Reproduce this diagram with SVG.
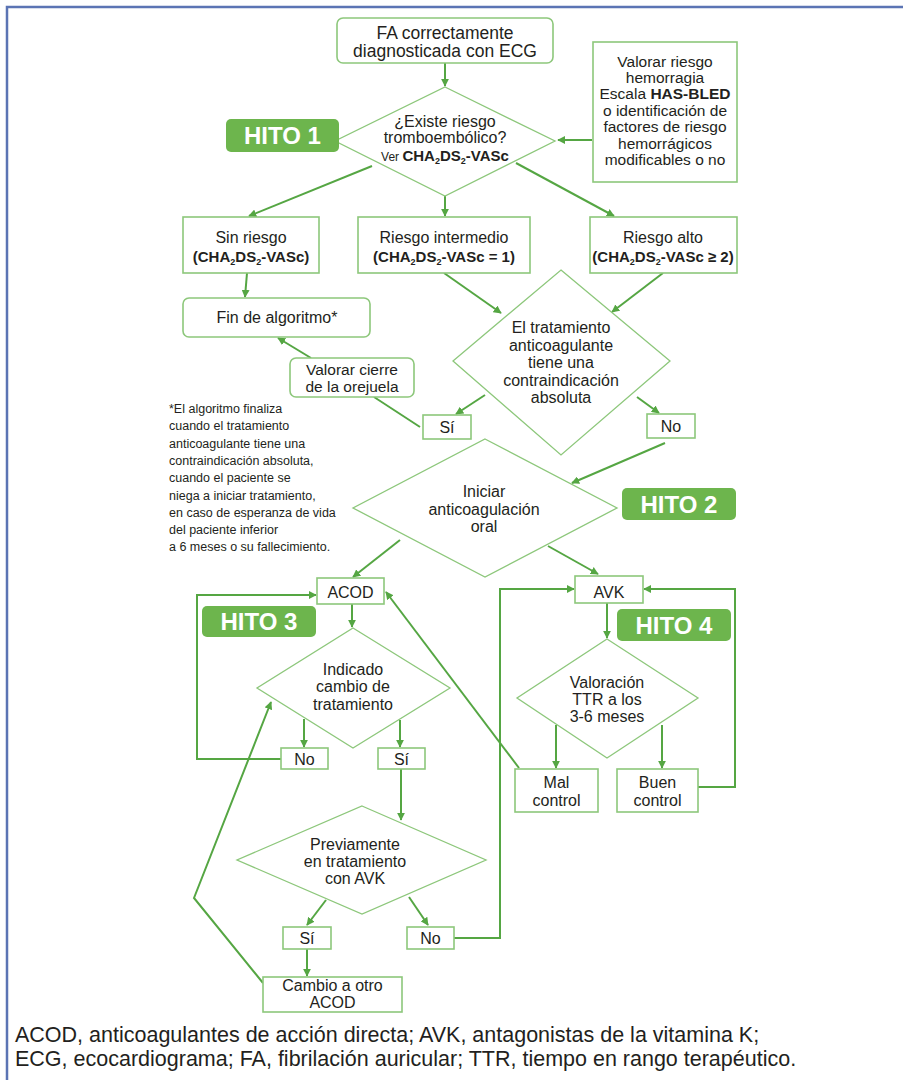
<svg xmlns="http://www.w3.org/2000/svg" width="903" height="1080" viewBox="0 0 903 1080">
<defs>
<style>
text{font-family:'Liberation Sans',Arial,sans-serif;fill:#231f20;text-anchor:middle}
.t{font-size:16px}
.b{font-weight:bold}
.box{fill:#fff;stroke:#8dc77b;stroke-width:1.6}
.dia{fill:#fff;stroke:#8dc77b;stroke-width:1.3}
.hito{fill:#6db54d}
.ht{font-size:24px;font-weight:bold;fill:#fff}
.c{fill:none;stroke:#55a643;stroke-width:2}
.a{marker-end:url(#ah)}
.fn{font-size:12.5px;text-anchor:start}
.ft{font-size:21.5px;text-anchor:start}
</style>
<marker id="ah" viewBox="0 0 10 10" refX="9" refY="5" markerWidth="8" markerHeight="8" orient="auto" markerUnits="userSpaceOnUse">
<path d="M0,0 L10,5 L0,10 z" fill="#55a643"/>
</marker>
</defs>
<rect width="903" height="1080" fill="#fff"/>
<path d="M7,1080 V7 H903" fill="none" stroke="#5b74b4" stroke-width="2.5"/>

<g id="connectors">
<path class="c a" d="M445,63 V86"/>
<path class="c a" d="M592,140 H558"/>
<path class="c a" d="M372,166 L249,216"/>
<path class="c a" d="M445,196 V216"/>
<path class="c a" d="M516,163 L614,216"/>
<path class="c a" d="M247,273 L245,297"/>
<path class="c a" d="M444,273 L501,313"/>
<path class="c a" d="M663,273 L612,312"/>
<path class="c a" d="M485,395 L456,414"/>
<path class="c a" d="M637,397 L659,413"/>
<path class="c" d="M420,427 L374,397"/>
<path class="c a" d="M311,358 L278,338"/>
<path class="c a" d="M665,443 L572,483"/>
<path class="c a" d="M400,540 L353,577"/>
<path class="c a" d="M548,546 L598,574"/>
<path class="c a" d="M352,604 V627"/>
<path class="c a" d="M304,719 V747"/>
<path class="c a" d="M400,720 V747"/>
<path class="c a" d="M281,759 H197 V595 H316"/>
<path class="c a" d="M519,768 L386,592"/>
<path class="c a" d="M607,603 V638"/>
<path class="c a" d="M556,725 V768"/>
<path class="c a" d="M662,725 V768"/>
<path class="c a" d="M698,787 H735 V589 H644"/>
<path class="c a" d="M454,938 H500 V589 H574"/>
<path class="c a" d="M401,769 V820"/>
<path class="c a" d="M326,900 L307,925"/>
<path class="c a" d="M409,897 L428,925"/>
<path class="c a" d="M307,949 V976"/>
<path class="c a" d="M263,983 L194,898 L271,702"/>
</g>

<g id="n-fa">
<rect class="box" x="337" y="18" width="216" height="45" rx="6"/>
<text style="font-size:17.5px" x="445" y="39">FA correctamente</text>
<text style="font-size:17.5px" x="445" y="57">diagnosticada con ECG</text>
</g>

<g id="n-d1">
<polygon class="dia" points="445,87 555,141 445,196 335,141"/>
<text class="t" x="445" y="127">¿Existe riesgo</text>
<text class="t" x="445" y="143">tromboembólico?</text>
<text x="445" y="161"><tspan font-size="12">Ver </tspan><tspan class="b" font-size="15">CHA<tspan font-size="9" dy="3">2</tspan><tspan dy="-3">DS</tspan><tspan font-size="9" dy="3">2</tspan><tspan dy="-3">-VASc</tspan></tspan></text>
</g>

<g id="n-hito1">
<rect class="hito" x="226" y="119" width="113" height="33" rx="5"/>
<text class="ht" x="282.5" y="144">HITO 1</text>
</g>

<g id="n-hasbled">
<rect class="box" x="593" y="42" width="144" height="140"/>
<g style="font-size:15.5px">
<text x="665" y="67">Valorar riesgo</text>
<text x="665" y="83">hemorragia</text>
<text x="665" y="99">Escala <tspan class="b">HAS-BLED</tspan></text>
<text x="665" y="116">o identificación de</text>
<text x="665" y="132">factores de riesgo</text>
<text x="665" y="149">hemorrágicos</text>
<text x="665" y="165">modificables o no</text>
</g>
</g>

<g id="n-sinriesgo">
<rect class="box" x="183" y="217" width="136" height="56"/>
<text class="t" x="251" y="243">Sin riesgo</text>
<text class="t b" x="251" y="262"><tspan font-size="15">(CHA<tspan font-size="9" dy="3">2</tspan><tspan dy="-3">DS</tspan><tspan font-size="9" dy="3">2</tspan><tspan dy="-3">-VASc)</tspan></tspan></text>
</g>

<g id="n-intermedio">
<rect class="box" x="358" y="217" width="172" height="56"/>
<text class="t" x="444" y="243">Riesgo intermedio</text>
<text class="t b" x="444" y="262"><tspan font-size="15">(CHA<tspan font-size="9" dy="3">2</tspan><tspan dy="-3">DS</tspan><tspan font-size="9" dy="3">2</tspan><tspan dy="-3">-VASc = 1)</tspan></tspan></text>
</g>

<g id="n-alto">
<rect class="box" x="590" y="217" width="147" height="56"/>
<text class="t" x="663" y="243">Riesgo alto</text>
<text class="t b" x="663" y="262"><tspan font-size="15">(CHA<tspan font-size="9" dy="3">2</tspan><tspan dy="-3">DS</tspan><tspan font-size="9" dy="3">2</tspan><tspan dy="-3">-VASc ≥ 2)</tspan></tspan></text>
</g>

<g id="n-fin">
<rect class="box" x="183" y="298" width="187" height="39" rx="6"/>
<text class="t" x="277" y="323">Fin de algoritmo*</text>
</g>

<g id="n-d2">
<polygon class="dia" points="561,270 670,361 561,455 453,361"/>
<text class="t" x="561" y="333">El tratamiento</text>
<text class="t" x="561" y="351">anticoagulante</text>
<text class="t" x="561" y="368">tiene una</text>
<text class="t" x="561" y="386">contraindicación</text>
<text class="t" x="561" y="403">absoluta</text>
</g>

<g id="n-orejuela">
<rect class="box" x="290" y="358" width="124" height="39" rx="6"/>
<text style="font-size:15.5px" x="352" y="375">Valorar cierre</text>
<text style="font-size:15.5px" x="352" y="392">de la orejuela</text>
</g>

<g id="n-si1">
<rect class="box" x="423" y="415" width="48" height="24"/>
<text class="t" x="447" y="433">Sí</text>
</g>

<g id="n-no1">
<rect class="box" x="647" y="414" width="48" height="24"/>
<text class="t" x="671" y="432">No</text>
</g>

<g id="n-footnote">
<text class="fn" x="169" y="413">*El algoritmo finaliza</text>
<text class="fn" x="169" y="430">cuando el tratamiento</text>
<text class="fn" x="169" y="448">anticoagulante tiene una</text>
<text class="fn" x="169" y="465">contraindicación absoluta,</text>
<text class="fn" x="169" y="482">cuando el paciente se</text>
<text class="fn" x="169" y="500">niega a iniciar tratamiento,</text>
<text class="fn" x="169" y="517">en caso de esperanza de vida</text>
<text class="fn" x="169" y="534">del paciente inferior</text>
<text class="fn" x="169" y="551">a 6 meses o su fallecimiento.</text>
</g>

<g id="n-d3">
<polygon class="dia" points="485,439 617,508 485,577 353,508"/>
<text class="t" x="484" y="497">Iniciar</text>
<text class="t" x="484" y="515">anticoagulación</text>
<text class="t" x="484" y="532">oral</text>
</g>

<g id="n-hito2">
<rect class="hito" x="622" y="488" width="114" height="32" rx="5"/>
<text class="ht" x="679" y="513">HITO 2</text>
</g>

<g id="n-acod">
<rect class="box" x="317" y="578" width="67" height="26"/>
<text class="t" x="350.5" y="598">ACOD</text>
</g>

<g id="n-hito3">
<rect class="hito" x="202" y="606" width="114" height="31" rx="5"/>
<text class="ht" x="259" y="630">HITO 3</text>
</g>

<g id="n-d4">
<polygon class="dia" points="353,628 450,688 353,748 257,688"/>
<text class="t" x="353" y="675">Indicado</text>
<text class="t" x="353" y="692">cambio de</text>
<text class="t" x="353" y="710">tratamiento</text>
</g>

<g id="n-no2">
<rect class="box" x="281" y="748" width="47" height="21"/>
<text class="t" x="304.5" y="765">No</text>
</g>

<g id="n-si2">
<rect class="box" x="378" y="748" width="47" height="21"/>
<text class="t" x="401.5" y="765">Sí</text>
</g>

<g id="n-avk">
<rect class="box" x="575" y="576" width="68" height="27"/>
<text class="t" x="609" y="598">AVK</text>
</g>

<g id="n-hito4">
<rect class="hito" x="617" y="609" width="114" height="32" rx="5"/>
<text class="ht" x="674" y="634">HITO 4</text>
</g>

<g id="n-d5">
<polygon class="dia" points="607,639 698,698 607,758 517,698"/>
<text class="t" x="607" y="688">Valoración</text>
<text class="t" x="607" y="705">TTR a los</text>
<text class="t" x="607" y="722">3-6 meses</text>
</g>

<g id="n-mal">
<rect class="box" x="515" y="769" width="83" height="43"/>
<text class="t" x="556.5" y="788">Mal</text>
<text class="t" x="556.5" y="806">control</text>
</g>

<g id="n-buen">
<rect class="box" x="617" y="769" width="81" height="43"/>
<text class="t" x="657.5" y="788">Buen</text>
<text class="t" x="657.5" y="806">control</text>
</g>

<g id="n-d6">
<polygon class="dia" points="362,806 486,860 362,914 237,860"/>
<text class="t" x="355" y="850">Previamente</text>
<text class="t" x="355" y="867">en tratamiento</text>
<text class="t" x="355" y="884">con AVK</text>
</g>

<g id="n-si3">
<rect class="box" x="283" y="927" width="48" height="22"/>
<text class="t" x="307" y="944">Sí</text>
</g>

<g id="n-no3">
<rect class="box" x="407" y="927" width="47" height="22"/>
<text class="t" x="430.5" y="944">No</text>
</g>

<g id="n-cambio">
<rect class="box" x="263" y="977" width="139" height="35"/>
<text class="t" x="332.5" y="991">Cambio a otro</text>
<text class="t" x="332.5" y="1008">ACOD</text>
</g>

<g id="footer">
<text class="ft" x="15" y="1042">ACOD, anticoagulantes de acción directa; AVK, antagonistas de la vitamina K;</text>
<text class="ft" x="15" y="1066">ECG, ecocardiograma; FA, fibrilación auricular; TTR, tiempo en rango terapéutico.</text>
</g>
</svg>
